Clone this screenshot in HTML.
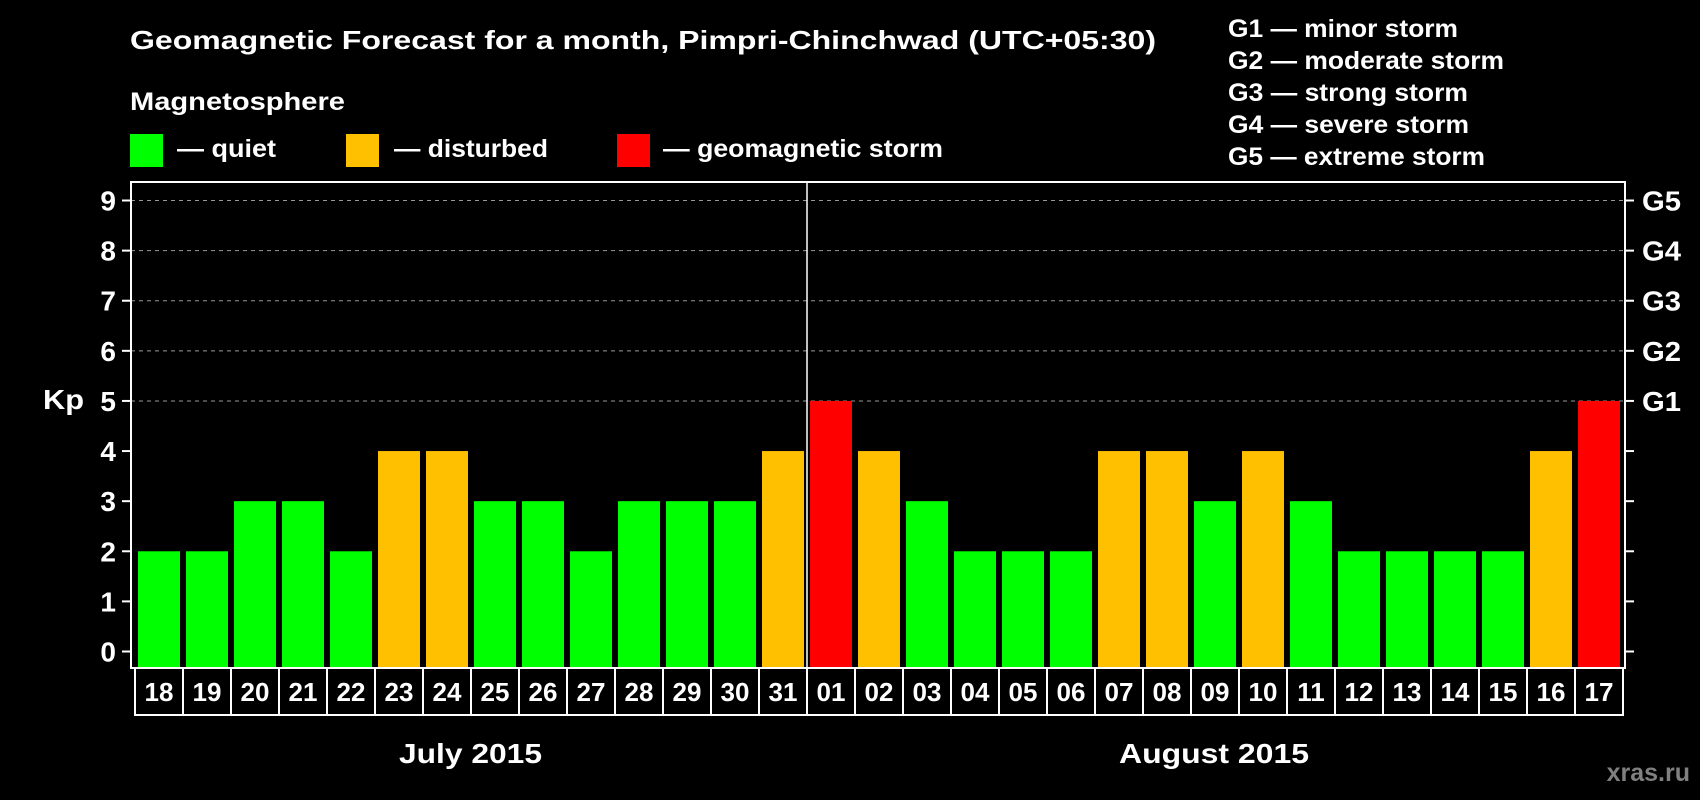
<!DOCTYPE html>
<html><head><meta charset="utf-8"><style>
body{margin:0;background:#000;width:1700px;height:800px;overflow:hidden}
svg{display:block}
text{font-family:"Liberation Sans",sans-serif;font-weight:bold;fill:#fff}
</style></head><body>
<svg id="chart" width="1700" height="800" xmlns="http://www.w3.org/2000/svg">
<text x="130" y="49" font-size="26" textLength="1026" lengthAdjust="spacingAndGlyphs">Geomagnetic Forecast for a month, Pimpri-Chinchwad (UTC+05:30)</text>
<g font-size="25">
<text x="1228" y="37" textLength="230" lengthAdjust="spacingAndGlyphs">G1 — minor storm</text>
<text x="1228" y="69" textLength="276" lengthAdjust="spacingAndGlyphs">G2 — moderate storm</text>
<text x="1228" y="101" textLength="240" lengthAdjust="spacingAndGlyphs">G3 — strong storm</text>
<text x="1228" y="133" textLength="241" lengthAdjust="spacingAndGlyphs">G4 — severe storm</text>
<text x="1228" y="165" textLength="257" lengthAdjust="spacingAndGlyphs">G5 — extreme storm</text>
</g>
<text x="130" y="110" font-size="25" textLength="215" lengthAdjust="spacingAndGlyphs">Magnetosphere</text>
<g font-size="25">
<rect x="130" y="134" width="33" height="33" fill="#00ff00"/>
<text x="177" y="157" textLength="99" lengthAdjust="spacingAndGlyphs">— quiet</text>
<rect x="346" y="134" width="33" height="33" fill="#ffc000"/>
<text x="394" y="157" textLength="154" lengthAdjust="spacingAndGlyphs">— disturbed</text>
<rect x="617" y="134" width="33" height="33" fill="#ff0000"/>
<text x="663" y="157" textLength="280" lengthAdjust="spacingAndGlyphs">— geomagnetic storm</text>
</g>
<text x="43" y="409" font-size="28" textLength="41" lengthAdjust="spacingAndGlyphs">Kp</text>
<text x="1690" y="781" font-size="25" text-anchor="end" style="fill:#808080">xras.ru</text>
<text x="399" y="763" font-size="28" textLength="143" lengthAdjust="spacingAndGlyphs">July 2015</text>
<text x="1119" y="763" font-size="28" textLength="190" lengthAdjust="spacingAndGlyphs">August 2015</text>
<g id="plot"></g>
</svg>
<script>
const days = ["18","19","20","21","22","23","24","25","26","27","28","29","30","31","01","02","03","04","05","06","07","08","09","10","11","12","13","14","15","16","17"];
const kp = [2,2,3,3,2,4,4,3,3,2,3,3,3,4,5,4,3,2,2,2,4,4,3,4,3,2,2,2,2,4,5];
const yTicks = [0,1,2,3,4,5,6,7,8,9];
const gLabels = ["G1","G2","G3","G4","G5"];
const gLevels = [5,6,7,8,9];

const NS="http://www.w3.org/2000/svg";
const g=document.getElementById('plot');
const L=131,R=1625,T=182,B=668,DB=715;
const y0=651.5,unit=(651.5-200.5)/9;
const yS=v=>y0-v*unit;
const x0=138,pitch=48,bw=42;
const xS=i=>x0+i*pitch;
function mk(tag,attrs){const e=document.createElementNS(NS,tag);for(const k in attrs)e.setAttribute(k,attrs[k]);g.appendChild(e);return e;}
function col(v){return v>=5?"#ff0000":v>=4?"#ffc000":"#00ff00";}

yTicks.forEach(v=>{
  const y=yS(v);
  if(v>=5){const gl=mk('line',{x1:L,x2:R,y1:y,y2:y,stroke:'#999','stroke-dasharray':'4,4','stroke-width':1});
  
  }
  const tl=mk('line',{x1:122,x2:L,y1:y,y2:y,stroke:'#fff','stroke-width':2});
  
  
  const tr=mk('line',{x1:R,x2:1634,y1:y,y2:y,stroke:'#fff','stroke-width':2});
  
  
  const t=mk('text',{x:116,y:y+10,'font-size':28,'text-anchor':'end'});
  t.textContent=v;
  
  
});
gLabels.forEach((s,i)=>{
  const t=mk('text',{x:1642,y:yS(gLevels[i])+10,'font-size':28,textLength:39,lengthAdjust:'spacingAndGlyphs'});
  t.textContent=s;
  
  
});
kp.forEach((v,i)=>{
  const r=mk('rect',{x:xS(i),y:yS(v),width:bw,height:B-yS(v),fill:col(v)});
  
  
});
const fr=mk('rect',{x:L,y:T,width:R-L,height:B-T,fill:'none',stroke:'#fff','stroke-width':2});


const mi=days.indexOf("01");
const dx=xS(mi)-3;
const dv=mk('line',{x1:dx,x2:dx,y1:T,y2:DB,stroke:'#fff','stroke-width':1.5});


days.forEach((d,i)=>{
  const bx=xS(i)-3;
  const r=mk('rect',{x:bx,y:B,width:pitch,height:DB-B,fill:'none',stroke:'#fff','stroke-width':2});
  
  
  const t=mk('text',{x:bx+pitch/2,y:701,'font-size':26,'text-anchor':'middle'});
  t.textContent=d;
  
  
});
</script>
</body></html>
